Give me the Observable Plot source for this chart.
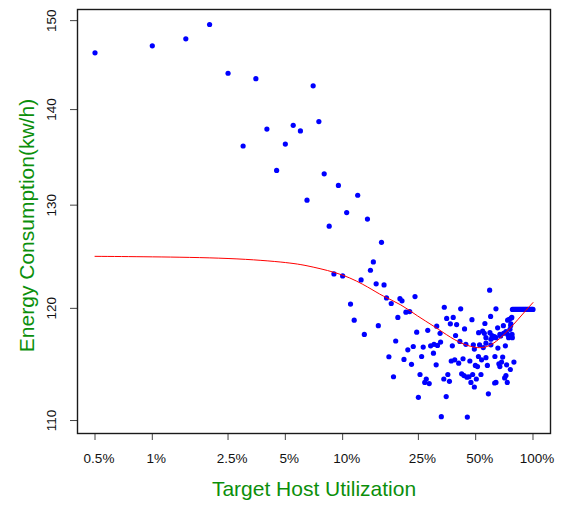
<!DOCTYPE html>
<html>
<head>
<meta charset="utf-8">
<script src="https://cdn.jsdelivr.net/npm/d3@7"></script>
<script src="https://cdn.jsdelivr.net/npm/@observablehq/plot@0.6"></script>
<style>
  html, body { margin: 0; padding: 0; background: #fff; }
  #chart { width: 563px; height: 506px; }
</style>
</head>
<body>
<div id="chart"></div>
<script>
// Tick values
const xTicks = [0.5, 1, 2.5, 5, 10, 25, 50, 100];
const yTicks = [110, 120, 130, 140, 150];

// Scatter: target host utilization (%) and energy consumption (kw/h)
const utilization = [
  0.5, 1, 1.5, 2, 2.5, 3.5, 7, 4, 5.5, 6, 7.5, 3, 5, 4.5, 8, 9.5, 6.5, 10.5, 8.5,
  12, 13.5, 16, 14.5, 14, 9, 10, 12.5, 15, 16.5, 11, 11.5, 15.4, 13,
  17, 18, 20, 20.5, 24, 19.5, 21.5, 22.5, 24.5, 19, 17.5, 18.5, 21, 22, 23, 23.5,
  25, 25.5, 26, 26.5, 27, 27.5, 28.5, 28, 29, 30, 30.2, 31, 31.2, 31.5, 32.5, 32.7,
  33, 34, 34.2, 35, 35.2, 35.7, 36.4, 36.8, 37.2, 37.7, 38.1, 38.8, 39.2, 39.7,
  40.7, 41.3, 41.7, 42.2, 42.9, 43.4, 43.7, 44.4, 45.2, 45.0, 46.1, 46.6, 47.2,
  47.8, 48.2, 49.2, 48.6, 49.2, 49.8, 50.4, 51.1, 51.8, 51.7, 52.4, 53.3, 53.7,
  54.4, 54.8, 55.5, 55.9, 56.6, 56.6, 56.6, 57.6, 58.3, 59.2, 59.4, 59.9, 60.1,
  60.1, 60.9, 61.4, 62.7, 63.1, 62.9, 63.9, 63.9, 63.9, 65.2, 65.4, 66.2, 67.0,
  67.0, 67.6, 68.4, 69.3, 69.9, 70.1, 71.0, 71.6, 72.1, 72.1, 72.7, 73.3, 73.6,
  73.6, 74.5, 75.1, 75.7, 76.0, 76.3, 76.5, 76.9, 77.4, 77.6, 77.9, 79.4,
  78, 79, 80, 81, 82, 83, 84, 85, 86, 87, 88, 89, 90, 91, 92, 93, 94, 95, 96, 97, 98, 99, 100
];
const energy = [
  146.3, 147.1, 147.9, 149.55, 144.0, 143.4, 142.6, 137.9, 138.3, 137.7, 138.7, 136.1, 136.3, 133.55, 133.2, 132.0, 130.5, 129.25, 127.9,
  131.0, 128.6, 126.3, 124.4, 123.6, 123.25, 123.06, 122.67, 122.3, 122.2, 120.4, 118.9, 118.4, 117.6,
  120.97, 120.45, 120.9, 120.7, 121.1, 119.16, 119.64, 119.7, 117.8, 117.0, 115.58, 113.8, 115.34, 116.2, 114.9, 116.5,
  112.0, 114.0, 115.6, 116.45, 113.3, 113.6, 113.2, 117.97, 116.56, 115.9, 116.7, 114.86, 118.35, 116.6, 117.7, 116.9,
  110.33, 113.6, 120.1, 112.06, 119.07, 114.0, 113.4, 118.57, 115.2, 116.56, 119.16, 115.3, 117.5, 118.5,
  115.0, 116.96, 119.96, 114.06, 115.4, 113.9, 118.1, 116.7, 110.3, 113.76, 113.8, 115.2, 113.3,
  118.95, 114.0, 116.27, 116.65, 112.9, 114.8, 113.6, 114.7, 117.76, 115.6, 116.65, 114.0, 115.3,
  117.9, 116.4, 117.7, 118.6, 117.3, 115.5, 116.8, 114.8, 112.3, 121.7, 117.76, 119.25, 117.16,
  116.65, 117.5, 117.3, 117.4, 115.6, 113.25, 113.3, 119.96, 117.3, 118.2, 116.36, 114.95, 114.7,
  117.6, 117.46, 115.1, 115.55, 118.4, 117.7, 113.7, 116.56, 113.9, 117.85, 114.86, 113.3, 118.9,
  117.6, 117.3, 118.98, 118.06, 114.44, 118.4, 118.57, 119.1, 119.16, 117.6, 117.3, 115.1,
  119.9, 119.9, 119.9, 119.9, 119.9, 119.9, 119.9, 119.9, 119.9, 119.9, 119.9, 119.9, 119.9, 119.9, 119.9, 119.9, 119.9, 119.9, 119.9, 119.9, 119.9, 119.9, 119.9
];

// Smoothed fit (red curve)
const fitUtilization = [0.5, 1, 2.5, 5, 7, 10, 13.5, 16.4, 20.2, 24.7, 30.2, 36.9, 43.4, 50, 54.4, 58.9, 66.6, 75.2, 83.2, 91.7, 100];
const fitEnergy = [124.94, 124.89, 124.73, 124.34, 123.9, 123.13, 122.01, 121.14, 120.32, 119.31, 118.33, 117.34, 116.71, 116.42, 116.42, 116.58, 117.2, 118.1, 118.95, 119.8, 120.54];

const xTitle = "Target Host Utilization";
const yTitle = "Energy Consumption(kw/h)";

const points = utilization.map((u, i) => ({u, e: energy[i]}));
const fit = fitUtilization.map((u, i) => ({u, e: fitEnergy[i]}));
const green = "#0b8f0b";

const chart = Plot.plot({
  width: 563,
  height: 506,
  marginLeft: 77,
  marginRight: 13,
  marginTop: 9,
  marginBottom: 73,
  style: {fontFamily: "'Liberation Sans', Arial, Helvetica, sans-serif", fontSize: "13.5px", color: "#000", background: "#fff"},
  x: {type: "log", domain: [0.4046, 123.6]},
  y: {type: "log", domain: [108.9, 151.3]},
  marks: [
    Plot.axisX({ticks: xTicks, tickSize: 7, tickFormat: () => "", label: null, stroke: "#444"}),
    Plot.axisY({ticks: yTicks, tickSize: 7, tickFormat: () => "", label: null, stroke: "#444"}),
    Plot.text(xTicks, {x: d => d, frameAnchor: "bottom", text: d => d + "%", dy: 25, dx: 4, textAnchor: "middle", lineAnchor: "middle", fontSize: 13.5, fill: "#111"}),
    Plot.text(yTicks, {y: d => d, frameAnchor: "left", text: d => String(d), rotate: -90, dx: -26, textAnchor: "middle", lineAnchor: "middle", fontSize: 13.5, fill: "#111"}),
    Plot.dot(points, {x: "u", y: "e", r: 2.6, fill: "#0000ff"}),
    Plot.line(fit, {x: "u", y: "e", stroke: "#ff0000", strokeWidth: 1, curve: "natural"}),
    Plot.frame({stroke: "#1a1a1a", strokeWidth: 1.4}),
    Plot.text([xTitle], {frameAnchor: "bottom", dy: 56, textAnchor: "middle", lineAnchor: "middle", fontSize: 21, fill: green}),
    Plot.text([yTitle], {frameAnchor: "left", rotate: -90, dx: -50, dy: 4, textAnchor: "middle", lineAnchor: "middle", fontSize: 21, fill: green})
  ]
});
document.getElementById("chart").appendChild(chart);
</script>
</body>
</html>
